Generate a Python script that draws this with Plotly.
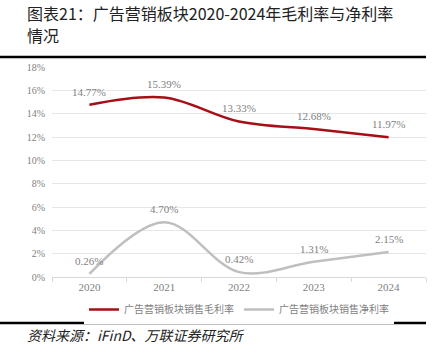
import plotly.graph_objects as go

years = ["2020", "2021", "2022", "2023", "2024"]
gross = [14.77, 15.39, 13.33, 12.68, 11.97]
net = [0.26, 4.70, 0.42, 1.31, 2.15]
series_names = ["广告营销板块销售毛利率", "广告营销板块销售净利率"]
y_ticks = [0, 2, 4, 6, 8, 10, 12, 14, 16, 18]
title_lines = ["图表21：广告营销板块2020-2024年毛利率与净利率", "情况"]

serif = "Liberation Serif, Noto Sans CJK SC, serif"
cjk = "Noto Sans CJK SC, sans-serif"

fig = go.Figure()
for vals, name, color in [(gross, series_names[0], "#a50f15"), (net, series_names[1], "#bfbfbf")]:
    fig.add_trace(go.Scatter(
        x=years, y=vals, name=name, mode="lines",
        line=dict(color=color, width=2.5, shape="spline", smoothing=1),
        cliponaxis=False,
    ))
    for i, v in enumerate(vals):
        fig.add_annotation(x=i, y=v, text=f"{v:.2f}%", showarrow=False, yshift=13,
                           font=dict(family=serif, size=11, color="#7f7f7f"))

W = 374
H = 210
fig.update_layout(
    width=438, height=353,
    margin=dict(l=52, r=12, t=67, b=76),
    paper_bgcolor="white", plot_bgcolor="white",
    showlegend=True,
    legend=dict(orientation="h", x=0.5, xanchor="center", y=-18/H, yanchor="top",
                font=dict(family=cjk, size=10, color="#7f7f7f"), itemwidth=30,
                tracegroupgap=0),
    xaxis=dict(type="category", showgrid=False, showline=True, linecolor="#d9d9d9",
               ticks="outside", tickcolor="#d9d9d9", ticklen=4, tickson="boundaries",
               range=[-0.5, 4.5],
               tickfont=dict(family=serif, size=11, color="#7f7f7f"), fixedrange=True),
    yaxis=dict(range=[0, 18], tickvals=y_ticks, ticktext=[f"{v}%" for v in y_ticks],
               showgrid=True, gridcolor="#e6e6e6", zeroline=False, showline=False,
               tickfont=dict(family=serif, size=10, color="#7f7f7f"), ticklabelstandoff=6),
)

for k, line in enumerate(title_lines):
    yc = 13 + 22 * k  # pixel center from top
    fig.add_annotation(xref="paper", yref="paper", x=-27/W, xanchor="left",
                       y=1 + (67 - yc)/H, yanchor="middle",
                       text=line, showarrow=False, align="left",
                       font=dict(family=cjk, size=16, color="#222"))
fig.add_annotation(xref="paper", yref="paper", x=-27/W, xanchor="left", y=-(335 - 277)/H, yanchor="middle",
                   text="<i>资料来源：iFinD、万联证券研究所</i>", showarrow=False, align="left",
                   font=dict(family=cjk, size=14, color="#222"))
fig.add_shape(type="line", xref="paper", yref="paper", x0=-52/W, x1=1, y0=1 + 10/H, y1=1 + 10/H,
              line=dict(color="black", width=2.5))
fig.add_shape(type="line", xref="paper", yref="paper", x0=-52/W, x1=1, y0=-46/H, y1=-46/H,
              line=dict(color="black", width=2.5))

fig.write_html("out.html")
